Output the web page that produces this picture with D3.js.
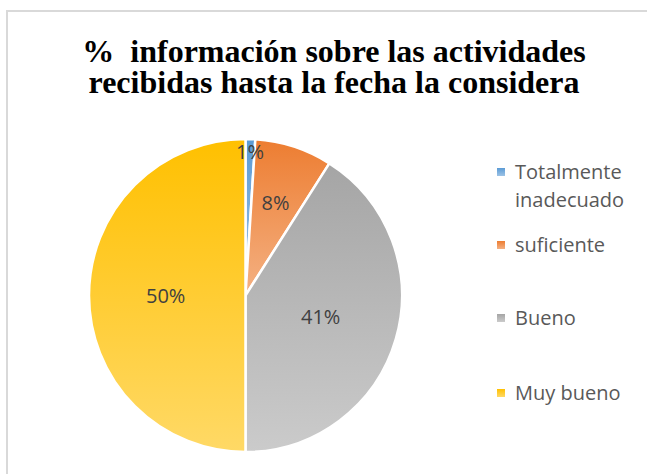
<!DOCTYPE html>
<html>
<head>
<meta charset="utf-8">
<script src="https://cdn.jsdelivr.net/npm/d3@7"></script>
<style>
  html, body { margin: 0; padding: 0; background: #fff; overflow: hidden; }
  #chart { width: 647px; height: 474px; }
</style>
</head>
<body>
<div id="chart"></div>
<script>
// Data
const categories = ["Totalmente inadecuado", "suficiente", "Bueno", "Muy bueno"]
const values = [1, 8, 41, 50]
const legendLines = [["Totalmente", "inadecuado"], ["suficiente"], ["Bueno"], ["Muy bueno"]]
const titleLines = ["%  información sobre las actividades", "recibidas hasta la fecha la considera"]

// colours: top and bottom of each slice gradient
const topColors = ["#5B9BD5", "#ED7D31", "#A5A5A5", "#FFC000"]
const bottomColors = ["#9DC3E6", "#F4B183", "#CBCBCB", "#FFD966"]
// how far out each label sits (fraction of radius)
const labelRadius = [0.92, 0.62, 0.5, 0.51]

const width = 647, height = 474
const cx = 245.5, cy = 295.5, r = 156.5

const svg = d3.select("#chart")
  .append("svg")
  .attr("width", width)
  .attr("height", height)
  .style("display", "block")

// outer frame (only left and top edges are inside the picture)
svg.append("path")
  .attr("d", `M7,${height}V11H${width}`)
  .attr("fill", "none")
  .attr("stroke", "#d9d9d9")
  .attr("stroke-width", 2)

const defs = svg.append("defs")
categories.forEach((c, i) => {
  const g = defs.append("linearGradient")
    .attr("id", "grad" + i)
    .attr("x1", 0).attr("y1", 0).attr("x2", 0).attr("y2", 1)
  g.append("stop").attr("offset", "0%").attr("stop-color", topColors[i])
  g.append("stop").attr("offset", "100%").attr("stop-color", bottomColors[i])
})

// title
svg.append("text")
  .attr("font-family", "'Liberation Serif'")
  .attr("font-weight", "bold")
  .attr("font-size", 32)
  .attr("fill", "#000")
  .attr("text-anchor", "middle")
  .selectAll("tspan")
  .data(titleLines)
  .join("tspan")
  .attr("x", 334)
  .attr("y", (d, i) => 62 + i * 31)
  .style("white-space", "pre")
  .text(d => d)

const pie = d3.pie().sort(null).value(d => d)
const arcs = pie(values)
const arc = d3.arc().innerRadius(0).outerRadius(r)

const g = svg.append("g").attr("transform", `translate(${cx},${cy})`)

g.selectAll("path")
  .data(arcs)
  .join("path")
  .attr("d", arc)
  .attr("fill", (d, i) => `url(#grad${i})`)
  .attr("stroke", "#fff")
  .attr("stroke-width", 2.5)
  .attr("stroke-linejoin", "round")

g.selectAll("text.lbl")
  .data(arcs)
  .join("text")
  .attr("class", "lbl")
  .attr("transform", (d, i) => {
    const a = (d.startAngle + d.endAngle) / 2
    const rr = r * labelRadius[i]
    return `translate(${Math.sin(a) * rr},${-Math.cos(a) * rr})`
  })
  .attr("text-anchor", "middle")
  .attr("dy", "0.35em")
  .attr("font-family", "'Open Sans'")
  .attr("font-size", 20)
  .attr("fill", "#404040")
  .text(d => d.data + "%")

// legend
const legendY = [172, 245, 318, 393]
const legend = svg.append("g")
legend.selectAll("g")
  .data(categories)
  .join("g")
  .attr("transform", (d, i) => `translate(497,${legendY[i]})`)
  .each(function (d, i) {
    const item = d3.select(this)
    item.append("rect")
      .attr("x", 0).attr("y", -4)
      .attr("width", 8).attr("height", 8)
      .attr("fill", `url(#grad${i})`)
    item.append("text")
      .attr("font-family", "'Open Sans'")
      .attr("font-size", 20)
      .attr("fill", "#595959")
      .selectAll("tspan")
      .data(legendLines[i])
      .join("tspan")
      .attr("x", 18)
      .attr("y", (t, j) => j * 28)
      .attr("dy", "0.35em")
      .text(t => t)
  })
</script>
</body>
</html>
